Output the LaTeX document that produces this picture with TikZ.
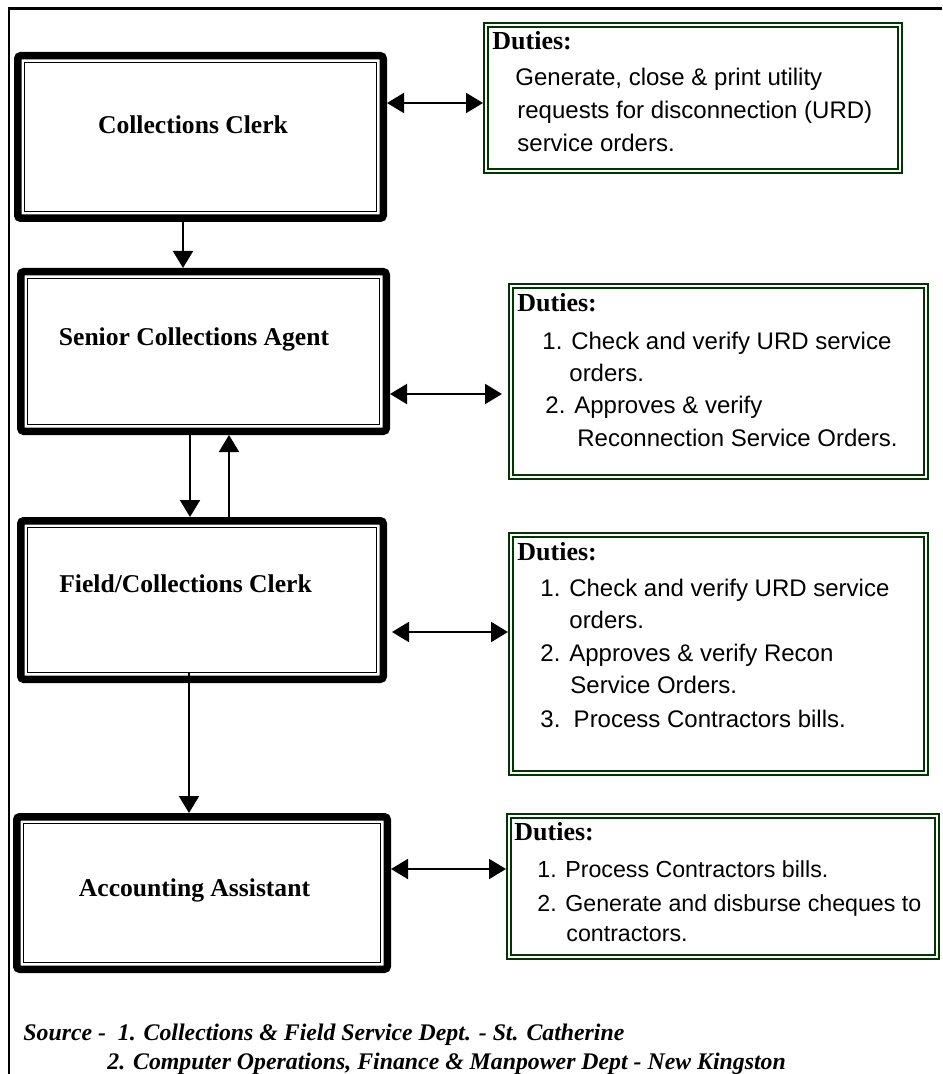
\documentclass[tikz,border=0pt]{standalone}
\usepackage{fontspec}
\setmainfont{Liberation Serif}
\setsansfont{Liberation Sans}
\usepackage{xcolor}
\usetikzlibrary{arrows.meta}
\definecolor{dutygreen}{RGB}{0,55,0}

\tikzset{
    rolebox/.style={draw, line width=3.75pt, rounded corners=1.5pt, inner sep=0pt, outer sep=1.875pt},
    dutybox/.style={draw=dutygreen, double=white, line width=1pt, double distance=0.8pt, inner sep=0pt, outer sep=1.4pt},
    roletitle/.style={font=\fontsize{12.8}{15}\selectfont\bfseries, anchor=base, inner sep=0pt},
    dutyhead/.style={font=\fontsize{13}{15}\selectfont\bfseries, anchor=base west, inner sep=0pt},
    dutyline/.style={font=\fontsize{#1}{15}\selectfont\sffamily, anchor=base west, inner sep=0pt},
    dutyline/.default=12,
    sourceline/.style={font=\fontsize{11.9}{15}\selectfont\bfseries\itshape, anchor=base west, inner sep=0pt},
    link/.style={line width=1pt, -{Triangle[length=8.5pt,width=10pt]}},
    twoway/.style={line width=1pt, {Triangle[length=8.5pt,width=10pt]}-{Triangle[length=8.5pt,width=10pt]}}
}

\begin{document}
\begin{tikzpicture}[x=0.5pt,y=-0.5pt]
    \useasboundingbox (0,0) rectangle (942,1074);
    \draw[line width=1.3pt] (9,1074) -- (9,8.7) -- (942,8.7);

    \node[rolebox, minimum width=182.75pt, minimum height=81.25pt] (clerk) at (200.5,137) {};
    \node[rolebox, minimum width=182.75pt, minimum height=79.75pt] (agent) at (203.5,351.5) {};
    \node[rolebox, minimum width=181.25pt, minimum height=79.25pt] (field) at (202,600) {};
    \node[rolebox, minimum width=185.25pt, minimum height=76.25pt] (acct) at (202,893) {};
    \foreach \r in {clerk,agent,field,acct}
        \draw[line width=0.75pt] ([shift={(5.25pt,-5.25pt)}]\r.north west) rectangle ([shift={(-5.25pt,5.25pt)}]\r.south east);

    \node[roletitle] (clerkname) at (193,134) {Collections Clerk};
    \node[roletitle] (agentname) at (194,346) {Senior Collections Agent};
    \node[roletitle] (fieldname) at (185.5,592) {Field/Collections Clerk};
    \node[roletitle] (acctname) at (194.5,896) {Accounting Assistant};

    \node[dutybox, minimum width=207.2pt, minimum height=73.2pt] (duty1) at (693,98) {};
    \node[dutybox, minimum width=207.7pt, minimum height=95.7pt] (duty2) at (718.5,381.5) {};
    \node[dutybox, minimum width=207.7pt, minimum height=119.2pt] (duty3) at (718.5,654) {};
    \node[dutybox, minimum width=214.2pt, minimum height=70.7pt] (duty4) at (723,886.5) {};

    \node[dutyhead] (head1) at (492,50) {Duties:};
    \node[dutyhead] (head2) at (517,312) {Duties:};
    \node[dutyhead] (head3) at (517,560) {Duties:};
    \node[dutyhead] (head4) at (514,840) {Duties:};

    \foreach \x/\y/\s/\t [count=\i] in {
        515/86/12/{Generate, close \& print utility},
        517/119/12/{requests for disconnection (URD)},
        517/152/12/{service orders.},
        542/350/12/{1. Check and verify URD service},
        569/382/12/{orders.},
        545/414/12/{2. Approves \& verify},
        577/446/12/{Reconnection Service Orders.},
        540/596/12/{1. Check and verify URD service},
        569/628/12/{orders.},
        540/661/12/{2. Approves \& verify Recon},
        570/693/12/{Service Orders.},
        540/727/12/{3.\ \ Process Contractors bills.},
        537/877/11.6/{1. Process Contractors bills.},
        537/911/11.6/{2. Generate and disburse cheques to},
        566/941/11.6/{contractors.}}
        \node[dutyline=\s] (dline\i) at (\x,\y) {\t};

    \draw[twoway] (clerk.east |- 0,103) -- (duty1.west |- 0,103);
    \draw[twoway, shorten >=3pt] (agent.east |- 0,394) -- (duty2.west |- 0,394);
    \draw[twoway, shorten <=2.5pt] (field.east |- 0,632) -- (duty3.west |- 0,632);
    \draw[twoway] (acct.east |- 0,869) -- (duty4.west |- 0,869);

    \draw[link] (clerk.south -| 183,0) -- (agent.north -| 183,0);
    \draw[link] (agent.south -| 190,0) -- (field.north -| 190,0);
    \draw[link] (field.north -| 229,0) -- (agent.south -| 229,0);
    \draw[link, shorten <=-5.5pt] (field.south -| 189,0) -- (acct.north -| 189,0);

    \node[sourceline] (src1) at (23,1040) {Source -\ \ 1. Collections \& Field Service Dept. - St. Catherine};
    \node[sourceline] (src2) at (107,1069) {2. Computer Operations, Finance \& Manpower Dept - New Kingston};
\end{tikzpicture}
\end{document}
